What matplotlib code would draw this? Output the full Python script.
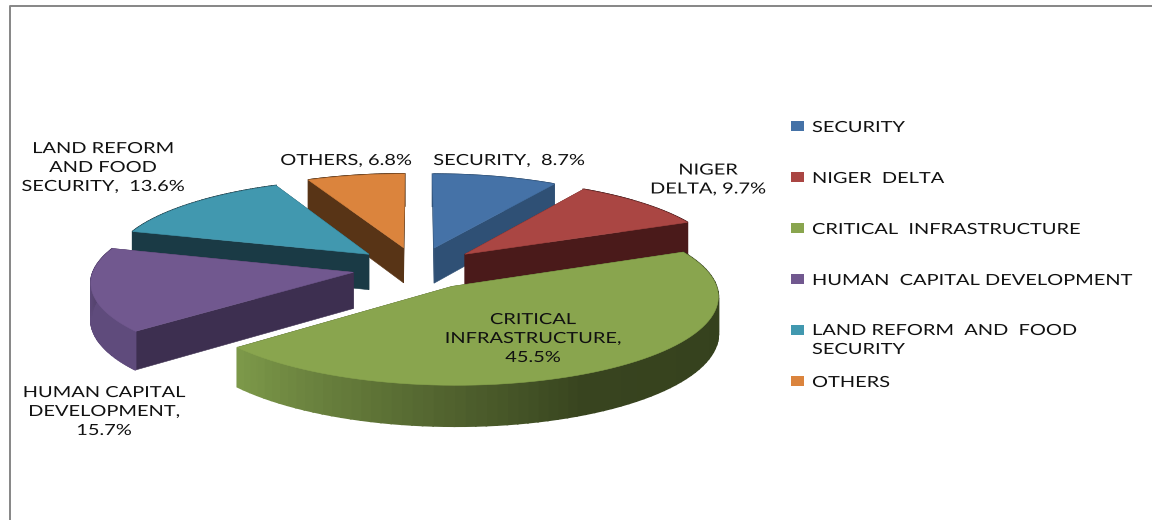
import numpy as np
import matplotlib
matplotlib.use("Agg")
import matplotlib.pyplot as plt
from matplotlib.colors import LinearSegmentedColormap
from matplotlib.patches import Rectangle
from matplotlib.patheffects import AbstractPathEffect
from matplotlib.transforms import Affine2D

# datos del grafico
categorias = ["SECURITY", "NIGER  DELTA", "CRITICAL  INFRASTRUCTURE",
              "HUMAN  CAPITAL DEVELOPMENT", "LAND REFORM  AND  FOOD\nSECURITY", "OTHERS"]
valores = [8.7, 9.7, 45.5, 15.7, 13.6, 6.8]
etiquetas = ["SECURITY,  8.7%", "NIGER\nDELTA, 9.7%", "CRITICAL\nINFRASTRUCTURE,\n45.5%",
             "HUMAN CAPITAL\nDEVELOPMENT,\n15.7%", "LAND REFORM\nAND FOOD\nSECURITY,  13.6%", "OTHERS, 6.8%"]

colores = ["#4572A7", "#AA4643", "#89A54E", "#71588F", "#4198AF", "#DB843D"]
colores_lado = ["#2F5075", "#4A1A1A", "#38441F", "#3D2F50", "#1A3A45", "#583416"]
rampas_borde = [["#2F5075", "#2F5075"], ["#4A1A1A", "#4A1A1A"],
                [(0, "#333F1C"), (0.54, "#38441F"), (1, "#7C9849")],
                [(0, "#5F4B7C"), (0.6, "#5F4B7C"), (1, "#4C3B63")],
                ["#1A3A45", "#1A3A45"], ["#583416", "#583416"]]
pos_etiquetas = [(509, 161), (708, 180), (533, 339), (104, 412), (103, 168), (346, 161)]

# geometria de la proyeccion (pixeles)
CX, CY = 417, 268
RX, RY = 259, 85
PERSP = 0.10
EXPL = 0.25
ALTO = 36
ESTIRADO = 1.31


class Estirar(AbstractPathEffect):
    """Ensancha el texto en horizontal, como en la imagen original."""

    def __init__(self, x0, sx):
        super().__init__()
        self.x0, self.sx = x0, sx

    def draw_path(self, renderer, gc, tpath, affine, rgbFace=None):
        t = Affine2D().translate(-self.x0, 0).scale(self.sx, 1).translate(self.x0, 0)
        renderer.draw_path(gc, tpath, affine + t, rgbFace)


def proyectar(u, v):
    s = 1 / (1 + PERSP * v)
    return CX + u * RX * s, CY - v * RY * s, ALTO * s


def cara(ax, xs, ys, color, lw=0.4):
    ax.fill(xs, ys, facecolor=color, edgecolor=color, linewidth=lw)


fig = plt.figure(figsize=(11.52, 5.2), dpi=100)
ax = fig.add_axes([0, 0, 1, 1])
ax.set_xlim(0, 1152)
ax.set_ylim(520, 0)
ax.axis("off")

# marco del grafico
ax.plot([9.5, 9.5, 1152], [520, 5.5, 5.5], color="#868686", linewidth=1.4)

bordes = np.concatenate([[0], np.cumsum(valores)]) / sum(valores) * 2 * np.pi

# de atras hacia adelante
for i in [5, 0, 4, 1, 3, 2]:
    a0, a1 = bordes[i], bordes[i + 1]
    medio = (a0 + a1) / 2
    du, dv = EXPL * np.sin(medio), EXPL * np.cos(medio)
    ang = np.linspace(a0, a1, 80)
    xa, ya, alto = proyectar(du + np.sin(ang), dv + np.cos(ang))
    x0, y0, alto0 = proyectar(du, dv)

    # caras radiales
    for k in (0, -1):
        cara(ax, [x0, xa[k], xa[k], x0], [y0, ya[k], ya[k] + alto[k], y0 + alto0], colores_lado[i])

    # borde exterior con degradado
    rampa = LinearSegmentedColormap.from_list("r", rampas_borde[i])
    for j in range(len(ang) - 1):
        cara(ax, [xa[j], xa[j + 1], xa[j + 1], xa[j]],
             [ya[j], ya[j + 1], ya[j + 1] + alto[j + 1], ya[j] + alto[j]],
             rampa(j / (len(ang) - 2)), lw=1.2)

    # cara superior
    cara(ax, np.r_[x0, xa], np.r_[y0, ya], colores[i])

for txt, (x, y) in zip(etiquetas, pos_etiquetas):
    ax.text(x, y, txt, ha="center", va="center", fontsize=11, color="#111111",
            family="Lato", linespacing=1.45, path_effects=[Estirar(x, ESTIRADO)])

# leyenda
for i, (nombre, color) in enumerate(zip(categorias, colores)):
    y = 126 + 51 * i
    ax.add_patch(Rectangle((791, y - 5), 13, 10, facecolor=color, edgecolor="none"))
    ax.text(812, y + 2 if "\n" not in nombre else y - 6, nombre, ha="left",
            va="top" if "\n" in nombre else "center", fontsize=11, color="#111111",
            family="Lato", linespacing=1.45, path_effects=[Estirar(812, ESTIRADO)])

fig.savefig("out.png", dpi=100)
plt.close(fig)
